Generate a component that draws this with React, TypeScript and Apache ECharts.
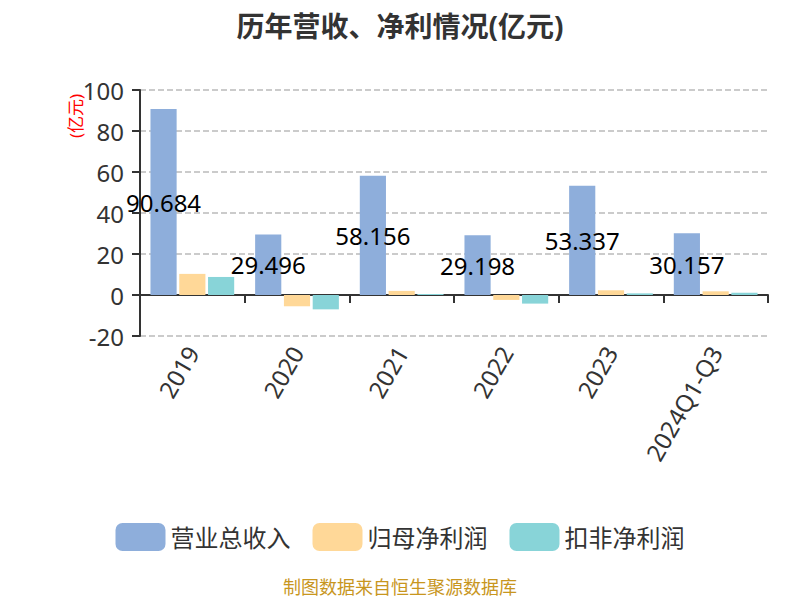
import React, { useEffect, useRef } from "react";
import * as echarts from "echarts";

const categories = ["2019", "2020", "2021", "2022", "2023", "2024Q1-Q3"];
const revenue = [90.684, 29.496, 58.156, 29.198, 53.337, 30.157];
const netProfit = [10.3, -5.5, 2.0, -2.4, 2.3, 1.8];
const deductedProfit = [8.8, -7.0, 0.5, -4.2, 0.8, 1.1];
const seriesNames = ["营业总收入", "归母净利润", "扣非净利润"];
const colors = ["#8eaedb", "#ffd898", "#88d4d8"];
const FONT = "'Noto Sans', 'Noto Sans CJK SC', sans-serif";

export default function App() {
  const ref = useRef<HTMLDivElement>(null);
  useEffect(() => {
    const chart = echarts.init(ref.current!, null, { renderer: "svg" });
    chart.setOption({
      animation: false,
      color: colors,
      textStyle: { fontFamily: FONT },
      title: {
        text: "历年营收、净利情况(亿元)",
        left: "center",
        top: 2,
        padding: 0,
        textStyle: { fontSize: 28, lineHeight: 32, fontWeight: "bold", color: "#333", fontFamily: FONT },
      },
      legend: {
        bottom: 44,
        left: "center",
        itemWidth: 50,
        itemHeight: 28,
        itemGap: 22,
        textStyle: { fontSize: 24, color: "#333", fontFamily: FONT },
        data: seriesNames,
      },
      graphic: [
        {
          type: "text",
          left: "center",
          top: 570,
          style: { text: "制图数据来自恒生聚源数据库", fill: "#c8961e", fontSize: 18, fontFamily: FONT },
        },
        {
          type: "text",
          x: 67,
          y: 108,
          rotation: Math.PI / 2,
          style: {
            text: "(亿元)",
            fill: "red",
            fontSize: 17,
            fontFamily: FONT,
            align: "center",
            verticalAlign: "middle",
          },
        },
      ],
      grid: { left: 132, right: 24, top: 82, bottom: 264 },
      xAxis: {
        type: "category",
        data: categories,
        axisLine: { lineStyle: { color: "#333", width: 2 } },
        axisTick: { show: true, lineStyle: { color: "#333", width: 2 }, length: 8 },
        axisLabel: { rotate: 60, fontSize: 24, color: "#333", margin: 12, fontFamily: FONT },
      },
      yAxis: {
        type: "value",
        min: -20,
        max: 100,
        interval: 20,
        axisLine: { show: true, lineStyle: { color: "#333", width: 2 } },
        axisTick: { show: true, lineStyle: { color: "#333", width: 2 }, length: 8 },
        axisLabel: { fontSize: 24, color: "#333", margin: 16, fontFamily: FONT },
        splitLine: { lineStyle: { type: "dashed", color: "#bbb", width: 1.5 } },
      },
      series: [
        {
          name: seriesNames[0],
          type: "bar",
          data: revenue,
          barGap: "10%",
          barCategoryGap: "20%",
          label: { show: true, position: "inside", color: "#000", fontSize: 24, fontFamily: FONT },
          z: 3,
        },
        { name: seriesNames[1], type: "bar", data: netProfit },
        { name: seriesNames[2], type: "bar", data: deductedProfit },
      ],
    });
    return () => chart.dispose();
  }, []);
  return <div ref={ref} style={{ width: 784, height: 592 }} />;
}
